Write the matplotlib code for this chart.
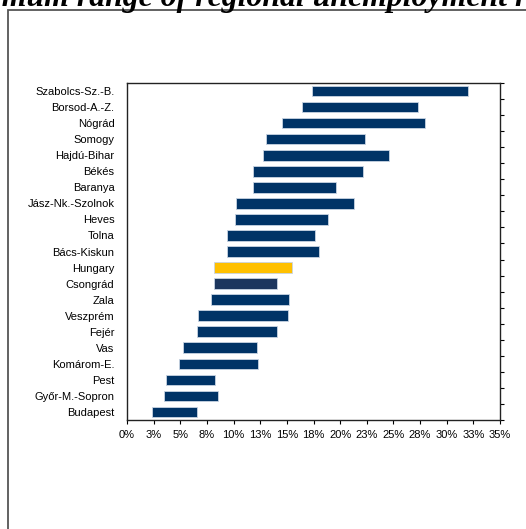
import matplotlib.pyplot as plt
import numpy as np
from matplotlib.patches import Rectangle

# Regional unemployment: min-max range per county (top to bottom as shown)
regions = ['Szabolcs-Sz.-B.', 'Borsod-A.-Z.', 'Nógrád', 'Somogy', 'Hajdú-Bihar',
           'Békés', 'Baranya', 'Jász-Nk.-Szolnok', 'Heves', 'Tolna', 'Bács-Kiskun',
           'Hungary', 'Csongrád', 'Zala', 'Veszprém', 'Fejér', 'Vas', 'Komárom-E.',
           'Pest', 'Győr-M.-Sopron', 'Budapest']
low = [17.4, 16.4, 14.5, 13.0, 12.8, 11.85, 11.85, 10.2, 10.1, 9.35, 9.35,
       8.2, 8.2, 7.85, 6.7, 6.6, 5.3, 4.9, 3.7, 3.5, 2.35]
high = [32.0, 27.3, 28.0, 22.3, 24.6, 22.1, 19.6, 21.3, 18.9, 17.6, 18.0,
        15.5, 14.1, 15.2, 15.1, 14.1, 12.2, 12.3, 8.3, 8.5, 6.6]

x_ticks = [0, 2.5, 5, 7.5, 10, 12.5, 15, 17.5, 20, 22.5, 25, 27.5, 30, 32.5, 35]
x_labels = ['0%', '3%', '5%', '8%', '10%', '13%', '15%', '18%', '20%', '23%',
            '25%', '28%', '30%', '33%', '35%']

title_pre = 'Minimum-maximum '
title_mid = 'range of regional unemployment'
title_post = ' rates'

navy = '#003366'
colors = []
for r in regions:
    if r == 'Hungary':
        colors.append('#FFC000')
    elif r == 'Csongrád':
        colors.append('#1C365E')
    else:
        colors.append(navy)

W, H = 526, 529
fig = plt.figure(figsize=(W / 100, H / 100), dpi=100)
renderer = fig.canvas.get_renderer()

# outer frame (runs off the right and bottom edges)
fig.patches.append(Rectangle((8 / W, -0.1), 1.2, 1 - 10 / H + 0.1,
                             transform=fig.transFigure, fill=False,
                             edgecolor='#555555', linewidth=1.3))

# cropped title: size it so "range ... unemployment" spans the same width
tkw = dict(fontweight='bold', fontstyle='italic', family='Liberation Serif')
probe = fig.text(0, 0, title_mid, fontsize=10, **tkw)
mid_w = probe.get_window_extent(renderer).width
probe.remove()
fs = 10 * 431 / mid_w
probe = fig.text(0, 0, title_pre, fontsize=fs, **tkw)
pre_w = probe.get_window_extent(renderer).width
probe.remove()
fig.text((77 - pre_w) / W, 1 - 6 / H, title_pre + title_mid + title_post,
         ha='left', va='baseline', fontsize=fs, **tkw)

ax = fig.add_axes([127 / W, 1 - 420 / H, (500 - 127) / W, (420 - 83) / H])

y = np.arange(len(regions))
widths = np.array(high) - np.array(low)
ax.barh(y, widths, left=low, height=0.66, color=colors,
        edgecolor='#c8d4e3', linewidth=0.6)

ax.set_xlim(0, 35)
ax.set_ylim(len(regions) - 0.5, -0.5)
ax.set_xticks(x_ticks)
ax.set_xticklabels(x_labels, fontsize=8, family='Liberation Sans')
ax.set_yticks(y)
ax.set_yticklabels(regions, fontsize=8, family='Liberation Sans')
ax.set_yticks(np.arange(len(regions) + 1) - 0.5, minor=True)

ax.tick_params(axis='x', direction='out', length=3, width=0.8, pad=4)
ax.tick_params(axis='y', which='major', left=False, right=False, length=0, pad=9)
ax.tick_params(axis='y', which='minor', left=False, right=True,
               direction='out', length=3, width=0.8)

for s in ax.spines.values():
    s.set_linewidth(1.0)
    s.set_color('#222222')

fig.savefig('out.png', dpi=100)
